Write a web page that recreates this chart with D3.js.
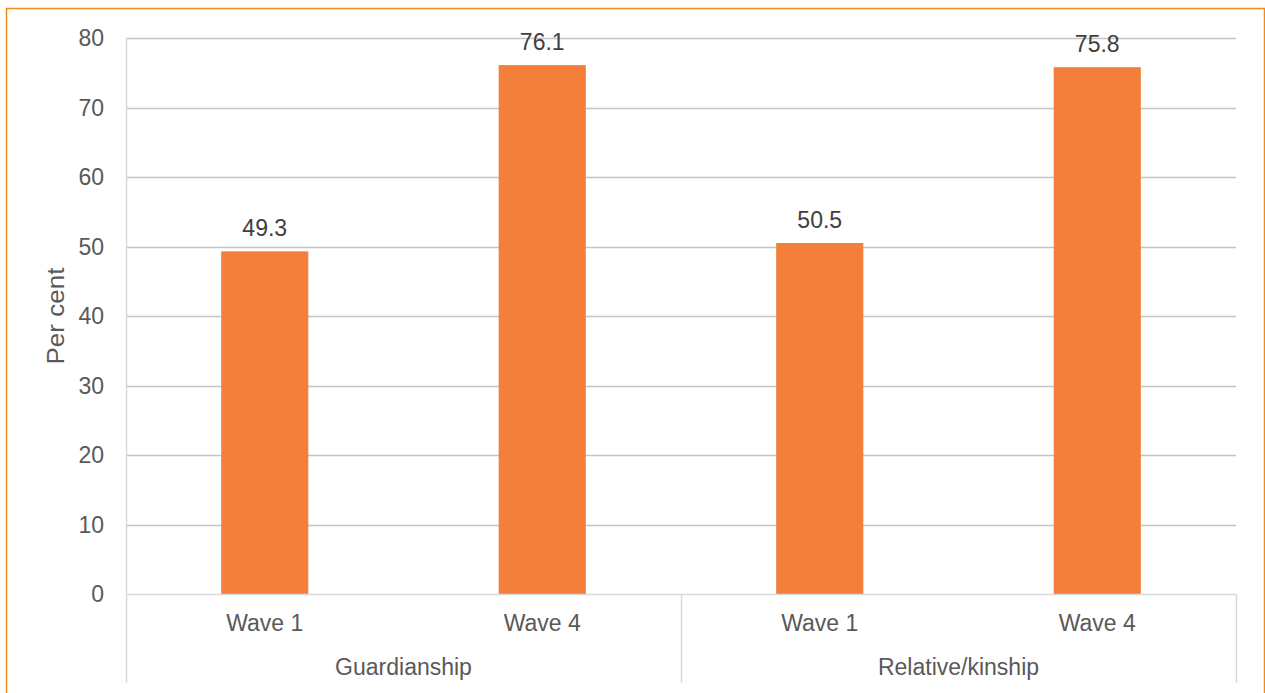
<!DOCTYPE html>
<html><head><meta charset="utf-8">
<script src="https://cdn.jsdelivr.net/npm/d3@7"></script>
<style>body{margin:0;background:#fff}svg{display:block;font-family:"Liberation Sans",Arial,sans-serif}</style>
</head><body>
<svg id="c" width="1265" height="693"></svg>
<script>
const groups = ["Guardianship", "Relative/kinship"];
const waves = ["Wave 1", "Wave 4"];
const values = [49.3, 76.1, 50.5, 75.8];
const yTicks = [0, 10, 20, 30, 40, 50, 60, 70, 80];

const svg = d3.select("#c");
const L = 126, R = 1236, T = 38, B = 594;

// border
svg.append("path").attr("d", `M6.5,693 V8.5 H1264.5 V693`).attr("fill","none").attr("stroke","#EF8C1E").attr("stroke-width",1.5);

const cats = [];
groups.forEach(g => waves.forEach(w => cats.push(g + "|" + w)));
const x = d3.scaleBand().domain(cats).range([L, R]).padding(0);
const gx = d3.scaleBand().domain(groups).range([L, R]).padding(0);
const y = d3.scaleLinear().domain([0, 80]).range([B, T]);

// gridlines
svg.append("g").selectAll("line").data(yTicks.filter(d => d > 0)).join("line")
  .attr("x1", L).attr("x2", R).attr("y1", d => Math.round(y(d)) + 0.5).attr("y2", d => Math.round(y(d)) + 0.5)
  .attr("stroke", "#C4C4C4").attr("stroke-width", 1.5);

// y labels
svg.append("g").selectAll("text").data(yTicks).join("text")
  .attr("x", 104).attr("y", d => y(d)).attr("dy", "0.35em").attr("text-anchor", "end")
  .attr("font-size", 23).attr("fill", "#595959").text(d => d);

// bars
const bw = x.bandwidth() * 0.314;
svg.append("g").selectAll("rect").data(values).join("rect")
  .attr("x", (d, i) => x(cats[i]) + x.bandwidth() / 2 - bw / 2)
  .attr("width", bw)
  .attr("y", d => y(d)).attr("height", d => y(0) - y(d))
  .attr("fill", "#F37F3B");

// data labels
svg.append("g").selectAll("text").data(values).join("text")
  .attr("x", (d, i) => x(cats[i]) + x.bandwidth() / 2)
  .attr("y", d => y(d) - 15).attr("text-anchor", "middle")
  .attr("font-size", 23).attr("fill", "#404040").text(d => d.toFixed(1));

// axis line
svg.append("line").attr("x1", L).attr("x2", R).attr("y1", B + 0.5).attr("y2", B + 0.5)
  .attr("stroke", "#D9D9D9").attr("stroke-width", 1.5);

// group separators
const seps = [L, ...groups.map(g => gx(g) + gx.bandwidth())];
svg.append("g").selectAll("line").data(seps).join("line")
  .attr("x1", d => d + 0.5).attr("x2", d => d + 0.5)
  .attr("y1", (d, i) => i === 0 ? T : B).attr("y2", 683)
  .attr("stroke", "#D9D9D9").attr("stroke-width", 1.5);

// wave labels
svg.append("g").selectAll("text").data(cats).join("text")
  .attr("x", d => x(d) + x.bandwidth() / 2).attr("y", 631).attr("text-anchor", "middle")
  .attr("font-size", 23).attr("fill", "#595959").text(d => d.split("|")[1]);

// group labels
svg.append("g").selectAll("text").data(groups).join("text")
  .attr("x", d => gx(d) + gx.bandwidth() / 2).attr("y", 675).attr("text-anchor", "middle")
  .attr("font-size", 23).attr("fill", "#595959").text(d => d);

// y title
svg.append("text").attr("transform", "translate(64,316) rotate(-90)").attr("text-anchor", "middle")
  .attr("font-size", 23).attr("textLength", 97).attr("lengthAdjust", "spacingAndGlyphs")
  .attr("fill", "#595959").text("Per cent");
</script>
</body></html>
